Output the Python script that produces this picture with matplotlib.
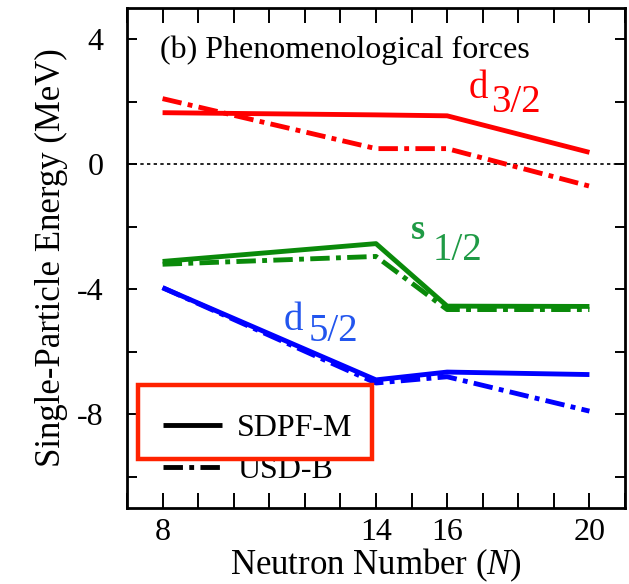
import matplotlib
matplotlib.use("Agg")
import matplotlib.pyplot as plt
from matplotlib.patches import Rectangle
from matplotlib.ticker import MultipleLocator, FixedLocator

plt.rcParams['font.family'] = ['Liberation Serif', 'DejaVu Serif']
plt.rcParams['mathtext.fontset'] = 'custom'
plt.rcParams['mathtext.rm'] = 'Liberation Serif'
plt.rcParams['mathtext.it'] = 'Liberation Serif:italic'
plt.rcParams['axes.unicode_minus'] = False

N = [8, 14, 16, 20]
d32_sdpfm = [1.65, 1.58, 1.55, 0.38]
d32_usdb = [2.1, 0.5, 0.5, -0.7]
s12_sdpfm = [-3.11, -2.54, -4.54, -4.55]
s12_usdb = [-3.2, -2.95, -4.65, -4.65]
d52_sdpfm = [-3.95, -6.9, -6.65, -6.73]
d52_usdb = [-3.95, -7.0, -6.8, -7.9]
xticks = [8, 14, 16, 20]
yticks = [4, 0, -4, -8]

fig = plt.figure(figsize=(6.29, 5.84), dpi=100)
ax = fig.add_axes([127/629, 1-508/584, (625-127)/629, (508-8)/584])

red, green, blue = '#ff0000', '#0a8a0a', '#0000ff'
lw = 3.5
dd = (0, (4, 1.3, 1, 1.3))

ax.axhline(0, color='black', lw=1.2, ls=(0, (2, 2)), zorder=1)
ax.plot(N, d32_sdpfm, color=red, lw=lw, solid_capstyle='butt')
ax.plot(N, d32_usdb, color=red, lw=lw, ls=dd)
ax.plot(N, s12_sdpfm, color=green, lw=lw, solid_capstyle='butt')
ax.plot(N, s12_usdb, color=green, lw=lw, ls=dd)
ax.plot(N, d52_sdpfm, color=blue, lw=lw, solid_capstyle='butt')
ax.plot(N, d52_usdb, color=blue, lw=lw, ls=dd)

ax.set_xlim(7, 21)
ax.set_ylim(-11, 5)
ax.xaxis.set_major_locator(FixedLocator(xticks))
ax.xaxis.set_minor_locator(MultipleLocator(1))
ax.yaxis.set_major_locator(FixedLocator(yticks))
ax.yaxis.set_minor_locator(MultipleLocator(2))
ax.tick_params(axis='x', which='both', direction='in', top=True, length=10.5, width=1.4,
               labelsize=23, pad=7)
ax.tick_params(axis='y', which='both', direction='in', right=True, length=7, width=1.4,
               labelsize=23, pad=17)
for s in ax.spines.values():
    s.set_linewidth(2)

ax.set_xlabel('Neutron Number ($\\mathit{N}$)', fontsize=25, labelpad=0)
ax.set_ylabel('Single-Particle Energy (MeV)', fontsize=25, labelpad=6)

ax.text(7.92, 3.4, '(b) Phenomenological forces', fontsize=23, ha='left', va='baseline')

ax.text(16.59, 2.13, 'd', color=red, fontsize=28, va='baseline')
ax.text(17.24, 1.68, '3/2', color=red, fontsize=28, va='baseline')
ax.text(14.98, -2.38, 's', color='#1f9a45', fontsize=26, fontweight='bold', va='baseline')
ax.text(15.6, -3.08, '1/2', color='#1f9a45', fontsize=28, va='baseline')
ax.text(11.39, -5.3, 'd', color='#2255ee', fontsize=28, va='baseline')
ax.text(12.1, -5.65, '5/2', color='#2255ee', fontsize=28, va='baseline')

h1, = ax.plot([], [], color='black', lw=lw, solid_capstyle='butt')
h2, = ax.plot([], [], color='black', lw=lw, ls=dd)
leg = ax.legend([h1, h2], ['SDPF-M', 'USD-B'], loc='upper left',
                bbox_to_anchor=((163-127)/498, (508-414)/500),
                frameon=False, fontsize=23, handlelength=1.85, handletextpad=0.47,
                labelspacing=0.4, borderaxespad=0, borderpad=0)

fig.patches.append(Rectangle((138/629, 1-459/584), (372-138)/629, (459-385)/584,
                             transform=fig.transFigure, fill=False, edgecolor='#ff2200',
                             lw=3.2, zorder=10))

fig.savefig('out.png', dpi=100)
